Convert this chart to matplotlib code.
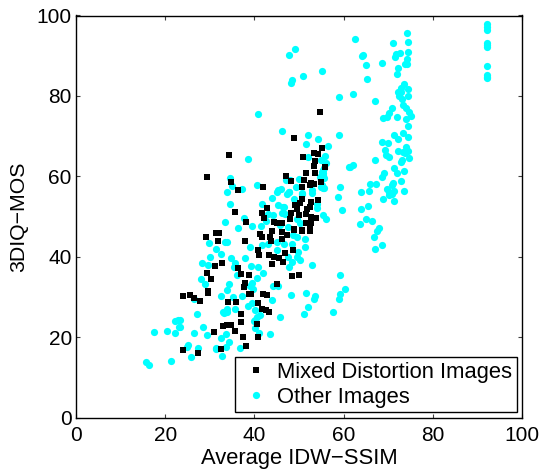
import matplotlib
matplotlib.use('Agg')
import matplotlib.pyplot as plt

plt.rcParams['font.family'] = ['Liberation Sans', 'DejaVu Sans']

# mixed distortion images
mixed_x = [54.7, 48.9, 34.3, 55.2, 53.4, 54.3, 50.9, 53.6, 53.4, 55.8, 29.4, 51.6, 53.6, 47.1, 48.2, 51.1, 34.8,
           52.7, 53.4, 52.5, 54.9, 50.7, 41.9, 36.3, 50.7, 54.3, 50.2, 52.7, 49.1, 52.5, 51.8, 42.8, 49.6, 35.7,
           41.7, 48.2, 51.6, 50.0, 42.2, 48.0, 52.7, 53.8, 38.1, 44.4, 45.1, 46.2, 51.6, 52.7, 52.5, 48.9, 50.7,
           43.9, 29.1, 31.5, 32.1, 31.8, 37.9, 41.3, 41.7, 43.5, 43.7, 46.3, 47.2, 46.3, 48.9, 50.7, 52.5, 40.8,
           41.0, 43.3, 44.4, 45.5, 46.4, 46.9, 48.7, 43.9, 32.7, 31.2, 36.3, 37.0, 38.8, 29.4, 30.3, 48.4, 50.0,
           45.1, 37.9, 37.7, 29.6, 29.6, 38.8, 39.2, 41.9, 42.8, 24.0, 25.6, 26.5, 27.8, 34.1, 35.9, 40.8, 41.7,
           42.6, 43.3, 37.0, 37.0, 40.6, 33.0, 33.9, 34.8, 35.7, 30.9, 37.4, 40.8, 38.1, 32.5, 24.0, 27.4]
mixed_y = [76.0, 69.5, 65.3, 67.0, 65.9, 65.5, 64.8, 63.7, 62.6, 62.4, 59.8, 60.8, 60.8, 60.1, 58.8, 59.1, 58.6,
           58.3, 58.1, 57.8, 58.6, 57.3, 57.3, 56.6, 54.4, 54.1, 53.4, 53.6, 52.9, 52.4, 51.9, 52.1, 51.9, 51.1,
           50.9, 50.9, 50.6, 50.4, 49.6, 49.4, 49.9, 49.6, 48.6, 48.6, 48.4, 48.5, 48.4, 48.4, 47.4, 46.9, 46.6,
           46.4, 44.9, 45.9, 45.9, 43.9, 43.9, 45.7, 44.9, 44.9, 43.9, 46.1, 45.4, 44.4, 46.6, 46.4, 46.4, 41.7,
           40.4, 40.4, 39.9, 39.7, 38.7, 40.9, 41.7, 38.2, 38.4, 37.7, 37.2, 35.7, 35.4, 35.9, 34.4, 35.2, 35.4,
           33.2, 33.5, 32.5, 31.5, 31.0, 30.7, 30.7, 30.7, 30.5, 30.2, 30.5, 29.8, 29.0, 28.7, 28.7, 28.5, 27.0,
           26.7, 26.2, 25.7, 23.8, 23.3, 22.8, 23.0, 23.0, 21.5, 21.3, 20.0, 20.0, 17.8, 17.0, 16.8, 16.0]

# other images
other_x = [74.2, 74.4, 62.6, 71.1, 64.4, 64.1, 65.0, 71.7, 72.6, 74.5, 71.6, 68.5, 74.2, 74.3, 73.8, 72.3, 71.9,
           65.3, 62.0, 67.0, 73.5, 74.5, 72.8, 72.1, 72.8, 74.4, 72.4, 73.0, 73.4, 74.1, 74.7, 75.0, 74.1, 70.9,
           70.2, 69.7, 68.8, 71.9, 74.4, 71.2, 73.3, 74.4, 72.3, 68.7, 69.9, 69.3, 72.1, 73.9, 73.4, 74.5, 73.8,
           69.5, 70.2, 74.7, 73.0, 72.9, 67.0, 62.0, 61.4, 71.3, 71.9, 73.6, 69.1, 68.6, 72.9, 71.0, 70.8, 65.9,
           67.3, 69.7, 71.4, 73.5, 65.7, 63.9, 70.2, 70.8, 70.2, 68.8, 71.3, 65.5, 63.9, 65.0, 66.3, 63.7, 67.9,
           67.6, 66.8, 68.5, 67.1,
           92.2, 92.2, 92.2, 92.2, 92.2, 92.2, 92.2, 92.2, 92.2, 92.2,
           59.0, 55.2, 50.8, 49.0, 47.8, 48.4, 48.1, 40.7, 46.3, 52.0, 51.6, 38.6, 52.0, 34.6, 35.0, 33.8, 37.3,
           34.6, 40.6, 41.6, 43.9, 45.0, 46.0, 45.4, 47.8, 47.4, 48.9, 45.4, 46.5, 50.1, 48.0, 49.3, 50.6, 54.2,
           56.6, 59.0, 55.8, 54.9, 56.0, 55.3, 55.6, 54.7, 55.6, 55.1, 54.9, 55.6, 52.9, 52.9, 50.6, 59.3, 58.7,
           59.6, 61.1, 47.1, 47.7, 46.6, 43.0, 44.2, 46.3, 46.9, 33.3, 37.6, 39.4, 41.5, 36.3, 42.6, 45.7, 49.5,
           50.2, 54.0, 54.1, 55.3, 56.1, 55.1, 55.4, 55.4, 55.3, 47.6,
           29.8, 33.4, 33.9, 31.5, 32.5, 30.0, 28.2, 29.7, 34.8, 37.9, 39.0, 35.7, 35.4, 39.3, 40.7, 36.0, 42.0,
           40.5, 28.0, 29.0, 34.4, 39.5, 39.0, 44.2, 45.2, 33.8, 32.6, 35.3, 39.6, 37.2, 48.1, 51.6, 53.5, 53.4,
           60.3, 59.3, 59.0, 59.3, 52.9, 47.7, 50.2, 48.4, 47.6, 51.3, 51.3, 49.5, 48.7, 48.5, 45.0, 46.6, 45.0,
           43.1, 41.6, 49.8, 49.5, 44.0, 39.4, 38.6, 33.8, 33.0, 33.8, 35.7, 27.1, 40.1, 41.3, 40.5, 40.1, 45.7,
           51.2, 52.0, 57.6, 28.5, 26.5, 29.4, 33.6, 32.4, 34.4, 33.6, 31.4, 36.8, 43.4, 41.1, 40.1, 25.2, 24.8,
           27.4, 25.7, 32.8, 23.3, 23.3, 17.6, 20.3, 22.3, 23.0, 22.3, 22.9, 15.7, 16.4, 21.2, 31.3, 26.5, 39.8,
           33.2]
other_y = [95.6, 93.4, 94.2, 93.2, 90.2, 90.0, 87.7, 90.4, 90.6, 90.8, 89.8, 88.1, 89.1, 87.9, 87.9, 86.9, 85.4,
           84.2, 80.5, 78.7, 83.0, 81.7, 81.9, 81.0, 81.0, 80.0, 80.0, 79.2, 77.7, 76.9, 76.1, 75.1, 74.3, 76.9,
           75.7, 74.8, 74.6, 74.7, 72.4, 70.3, 70.8, 69.7, 69.2, 68.6, 68.2, 66.5, 66.3, 67.4, 66.1, 66.4, 65.7,
           65.3, 64.9, 64.6, 64.1, 63.5, 64.1, 62.8, 62.4, 62.0, 60.9, 61.4, 60.9, 59.9, 58.9, 58.4, 57.8, 58.2,
           58.2, 56.8, 56.4, 56.4, 56.3, 56.0, 56.2, 55.6, 55.3, 54.3, 53.9, 52.5, 51.9, 49.4, 48.9, 48.2, 47.1,
           46.3, 44.8, 43.0, 41.8,
           97.8, 97.2, 96.4, 93.2, 92.7, 92.1, 87.4, 85.2, 84.8, 84.4,
           79.8, 86.3, 84.9, 91.7, 90.2, 84.0, 83.1, 75.5, 71.3, 70.3, 68.0, 64.4, 64.8, 59.5, 57.5, 56.1, 56.8,
           53.0, 57.8, 53.1, 54.6, 56.2, 56.8, 56.5, 56.2, 55.5, 54.4, 52.9, 52.3, 59.4, 59.1, 57.4, 55.6, 69.2,
           67.6, 70.3, 65.0, 64.1, 63.4, 60.7, 62.0, 59.9, 59.5, 61.1, 57.4, 57.2, 55.8, 56.6, 55.8, 57.4, 54.8,
           51.6, 62.4, 59.1, 56.1, 52.4, 50.6, 50.4, 50.8, 50.6, 48.7, 49.6, 47.6, 47.6, 47.1, 49.0, 47.8, 49.5,
           48.4, 52.0, 53.1, 50.4, 49.5, 57.8, 57.0, 60.3, 61.6, 47.5,
           43.4, 43.7, 43.6, 41.9, 40.6, 39.9, 38.4, 37.9, 39.6, 39.7, 42.4, 38.4, 37.4, 37.6, 37.5, 35.4, 35.9,
           34.7, 34.5, 33.3, 33.3, 33.5, 32.7, 32.7, 32.7, 31.7, 30.3, 30.0, 32.0, 30.1, 30.5, 30.9, 30.3, 29.4,
           32.0, 30.7, 29.6, 35.4, 37.9, 37.4, 39.2, 38.8, 40.0, 42.5, 44.3, 45.0, 45.4, 43.2, 41.6, 43.2, 43.7,
           43.2, 42.9, 41.2, 40.0, 29.2, 28.6, 27.7, 27.0, 26.2, 26.3, 27.0, 25.8, 26.7, 25.5, 25.1, 24.3, 25.1,
           25.8, 27.4, 26.2, 22.6, 21.1, 20.6, 20.8, 19.7, 18.8, 17.6, 17.2, 17.2, 20.8, 20.9, 22.3, 18.0, 17.6,
           17.2, 15.0, 15.3, 24.3, 22.4, 21.3, 21.5, 21.0, 22.5, 24.0, 24.2, 13.8, 13.1, 14.1, 17.1, 29.4, 24.0,
           26.1]

ticks = [0, 20, 40, 60, 80, 100]

fig = plt.figure(figsize=(5.43, 4.7), dpi=100)
ax = fig.add_axes([76 / 543, 52.5 / 470, 446 / 543, 402 / 470])

ax.plot(mixed_x, mixed_y, 's', color='black', ms=4.7, mew=0, zorder=3, label='Mixed Distortion Images')
ax.plot(other_x, other_y, 'o', color='#00ffff', ms=5.2, mew=0, zorder=2, label='Other Images')

ax.set_xlim(0, 100)
ax.set_ylim(0, 100)
ax.set_xticks(ticks)
ax.set_yticks(ticks)
ax.tick_params(direction='in', length=3, width=0.8, color='#404040', labelsize=15, top=True, right=True)
ax.tick_params(axis='x', pad=6)
ax.tick_params(axis='y', pad=3)
for side in ax.spines.values():
    side.set_linewidth(1.0)
ax.set_xlabel('Average IDW\u2212SSIM', fontsize=15.8, labelpad=2)
ax.set_ylabel('3DIQ\u2212MOS', fontsize=15.3, labelpad=6)

leg = ax.legend(loc='lower right', bbox_to_anchor=(440.7 / 446, 5.2 / 402), borderaxespad=0, fontsize=15.8,
                fancybox=False, framealpha=1, edgecolor='black', handletextpad=0.2, borderpad=0.2,
                handlelength=1.55, labelspacing=0.2, numpoints=1)
leg.get_frame().set_linewidth(1.0)
leg.set_zorder(5)

fig.savefig('out.png', dpi=100)
